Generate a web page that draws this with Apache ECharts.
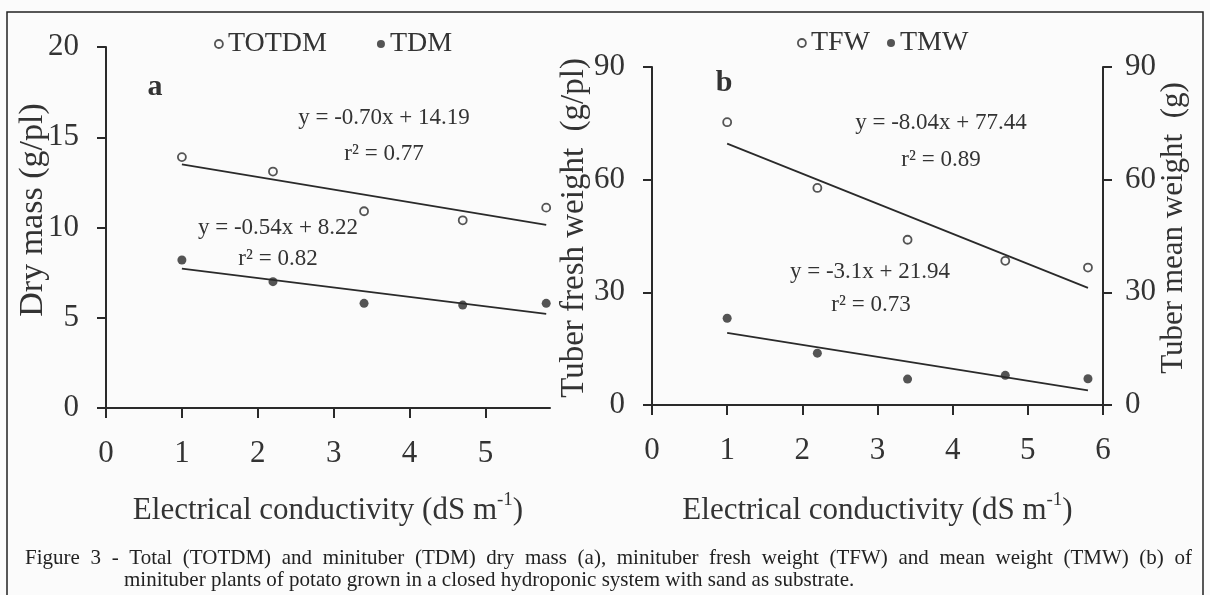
<!DOCTYPE html>
<html>
<head>
<meta charset="utf-8">
<title>Figure 3 - potato minitubers</title>
<script src="https://cdn.jsdelivr.net/npm/echarts@6/dist/echarts.min.js"></script>
<style>
  html, body { margin: 0; padding: 0; background: #fbfbfb; }
  #main { width: 1210px; height: 595px; }
</style>
</head>
<body>
<div id="main"></div>
<script>
// electrical conductivity levels (dS m-1)
var ecLevels = [1.0, 2.2, 3.4, 4.7, 5.8];

// panel a - dry mass (g/pl)
var totdm = [13.9, 13.1, 10.9, 10.4, 11.1];
var tdm = [8.2, 7.0, 5.8, 5.7, 5.8];

// panel b - tuber fresh weight (g/pl) and tuber mean weight (g)
var tfw = [75.3, 57.8, 44.0, 38.4, 36.6];
var tmw = [23.1, 13.8, 6.9, 7.9, 7.0];

// fitted lines, ends
var fitX = [1.0, 5.8];
var totdmFit = [13.5, 10.15];
var tdmFit = [7.72, 5.22];
var tfwFit = [69.6, 31.2];
var tmwFit = [19.2, 3.9];

// tick labels
var xTicksA = [0, 1, 2, 3, 4, 5];

var eqA = ['y = -0.70x + 14.19', 'r\u00b2 = 0.77', 'y = -0.54x + 8.22', 'r\u00b2 = 0.82'];
var eqB = ['y = -8.04x + 77.44', 'r\u00b2 = 0.89', 'y = -3.1x + 21.94', 'r\u00b2 = 0.73'];

var caption = [
  'Figure 3 - Total (TOTDM) and minituber (TDM) dry mass (a), minituber fresh weight (TFW) and mean weight (TMW) (b) of',
  'minituber plants of potato grown in a closed hydroponic system with sand as substrate.'
];

var FONT = "'Liberation Serif', 'Times New Roman', serif";
var INK = '#2a2a2a';
var TXT = '#333';
var BG = '#fbfbfb';
var CAP_SIZE = 21;

function pairs(xs, ys) {
  return xs.map(function (x, i) { return [x, ys[i]]; });
}

function xAxisCfg(grid, max, ticks, gap) {
  return {
    gridIndex: grid, type: 'value', min: 0, max: max, interval: 1,
    name: 'Electrical conductivity (dS m{sup|-1})',
    nameLocation: 'middle', nameGap: gap, nameMoveOverlap: false,
    nameTextStyle: {
      fontFamily: FONT, fontSize: 31, color: TXT,
      rich: { sup: { fontFamily: FONT, fontSize: 19, color: TXT, padding: [0, 0, 20, 0] } }
    },
    axisLine: { show: true, onZero: false, lineStyle: { color: INK, width: 2 } },
    axisTick: { show: true, length: 10, customValues: ticks, lineStyle: { color: INK, width: 2 } },
    axisLabel: { customValues: ticks, margin: 30, fontFamily: FONT, fontSize: 31, color: TXT },
    splitLine: { show: false }
  };
}

function yAxisCfg(grid, pos, max, step, name, gap, size, pad) {
  return {
    gridIndex: grid, type: 'value', position: pos, min: 0, max: max, interval: step,
    name: name, nameLocation: 'middle', nameGap: gap, nameRotate: 90, nameMoveOverlap: false,
    nameTextStyle: { fontFamily: FONT, fontSize: size, color: TXT, padding: [0, 0, 0, pad] },
    axisLine: { show: true, onZero: false, lineStyle: { color: INK, width: 2 } },
    axisTick: { show: true, length: 9, lineStyle: { color: INK, width: 2 } },
    axisLabel: { margin: pos === 'right' ? 22 : 27, fontFamily: FONT, fontSize: 31, color: TXT },
    splitLine: { show: false }
  };
}

var openDot = { color: BG, borderColor: INK, borderWidth: 1.8 };
var fullDot = { color: INK };

function scatter(name, x, y, data, style, size) {
  return {
    name: name, type: 'scatter', xAxisIndex: x, yAxisIndex: y,
    data: pairs(ecLevels, data), symbol: 'circle', symbolSize: size,
    itemStyle: style, z: 5
  };
}

function fit(x, y, data) {
  return {
    type: 'line', xAxisIndex: x, yAxisIndex: y, data: pairs(fitX, data),
    showSymbol: false, silent: true, z: 3,
    lineStyle: { color: INK, width: 1.8 }
  };
}

function label(text, x, y, size, bold) {
  return {
    type: 'text', x: x, y: y, silent: true,
    style: {
      text: text, fontFamily: FONT, fontSize: size, fontWeight: bold ? 'bold' : 'normal',
      fill: TXT, align: 'center', verticalAlign: 'middle'
    }
  };
}

function capText(text, x, y) {
  return {
    type: 'text', x: x, y: y, silent: true,
    style: { text: text, fontFamily: FONT, fontSize: CAP_SIZE, fill: '#222', align: 'left', verticalAlign: 'middle' }
  };
}

// first caption line is justified between the two margins, like the printed figure
function justified(text, x0, x1, y) {
  var ctx = document.createElement('canvas').getContext('2d');
  ctx.font = CAP_SIZE + 'px ' + FONT;
  var words = text.split(' ');
  var widths = words.map(function (w) { return ctx.measureText(w).width; });
  var total = widths.reduce(function (a, b) { return a + b; }, 0);
  var space = (x1 - x0 - total) / (words.length - 1);
  var out = [];
  var x = x0;
  words.forEach(function (w, i) {
    out.push(capText(w, x, y));
    x += widths[i] + space;
  });
  return out;
}

var myChart = echarts.init(document.getElementById('main'));

var graphics = [
  {
    type: 'rect', silent: true,
    shape: { x: 7, y: 12, width: 1196, height: 600 },
    style: { fill: null, stroke: '#222', lineWidth: 1.5 }
  },
  label('a', 155, 87, 30, true),
  label('b', 724, 83, 30, true),
  label(eqA[0], 384, 118, 23),
  label(eqA[1], 384, 154, 23),
  label(eqA[2], 278, 228, 23),
  label(eqA[3], 278, 259, 23),
  label(eqB[0], 941, 123, 23),
  label(eqB[1], 941, 160, 23),
  label(eqB[2], 870, 272, 23),
  label(eqB[3], 871, 305, 23),
  capText(caption[1], 124, 580)
].concat(justified(caption[0], 25, 1192, 558));

var option = {
  backgroundColor: BG,
  animation: false,
  grid: [
    { left: 106, right: 660, top: 47, bottom: 187 },
    { left: 652, right: 107, top: 67, bottom: 190 }
  ],
  xAxis: [
    xAxisCfg(0, 5.85, xTicksA, 83),
    xAxisCfg(1, 6, null, 86)
  ],
  yAxis: [
    yAxisCfg(0, 'left', 20, 5, 'Dry mass (g/pl)', 56, 34, 35),
    yAxisCfg(1, 'left', 90, 30, 'Tuber fresh weight  (g/pl)', 61, 33, 16),
    yAxisCfg(1, 'right', 90, 30, 'Tuber mean weight  (g)', 55, 31, 16)
  ],
  legend: [
    {
      left: 209, top: 25, itemWidth: 8, itemHeight: 8, itemGap: 50,
      textStyle: { fontFamily: FONT, fontSize: 28, color: TXT },
      data: [
        { name: 'TOTDM', icon: 'circle', itemStyle: openDot },
        { name: 'TDM', icon: 'circle', itemStyle: fullDot }
      ]
    },
    {
      left: 792, top: 24, itemWidth: 8, itemHeight: 8, itemGap: 17,
      textStyle: { fontFamily: FONT, fontSize: 28, color: TXT },
      data: [
        { name: 'TFW', icon: 'circle', itemStyle: openDot },
        { name: 'TMW', icon: 'circle', itemStyle: fullDot }
      ]
    }
  ],
  series: [
    fit(0, 0, totdmFit),
    fit(0, 0, tdmFit),
    scatter('TOTDM', 0, 0, totdm, openDot, 8),
    scatter('TDM', 0, 0, tdm, fullDot, 9),
    fit(1, 1, tfwFit),
    fit(1, 2, tmwFit),
    scatter('TFW', 1, 1, tfw, openDot, 8),
    scatter('TMW', 1, 2, tmw, fullDot, 9)
  ],
  graphic: graphics
};

myChart.setOption(option);
</script>
</body>
</html>
